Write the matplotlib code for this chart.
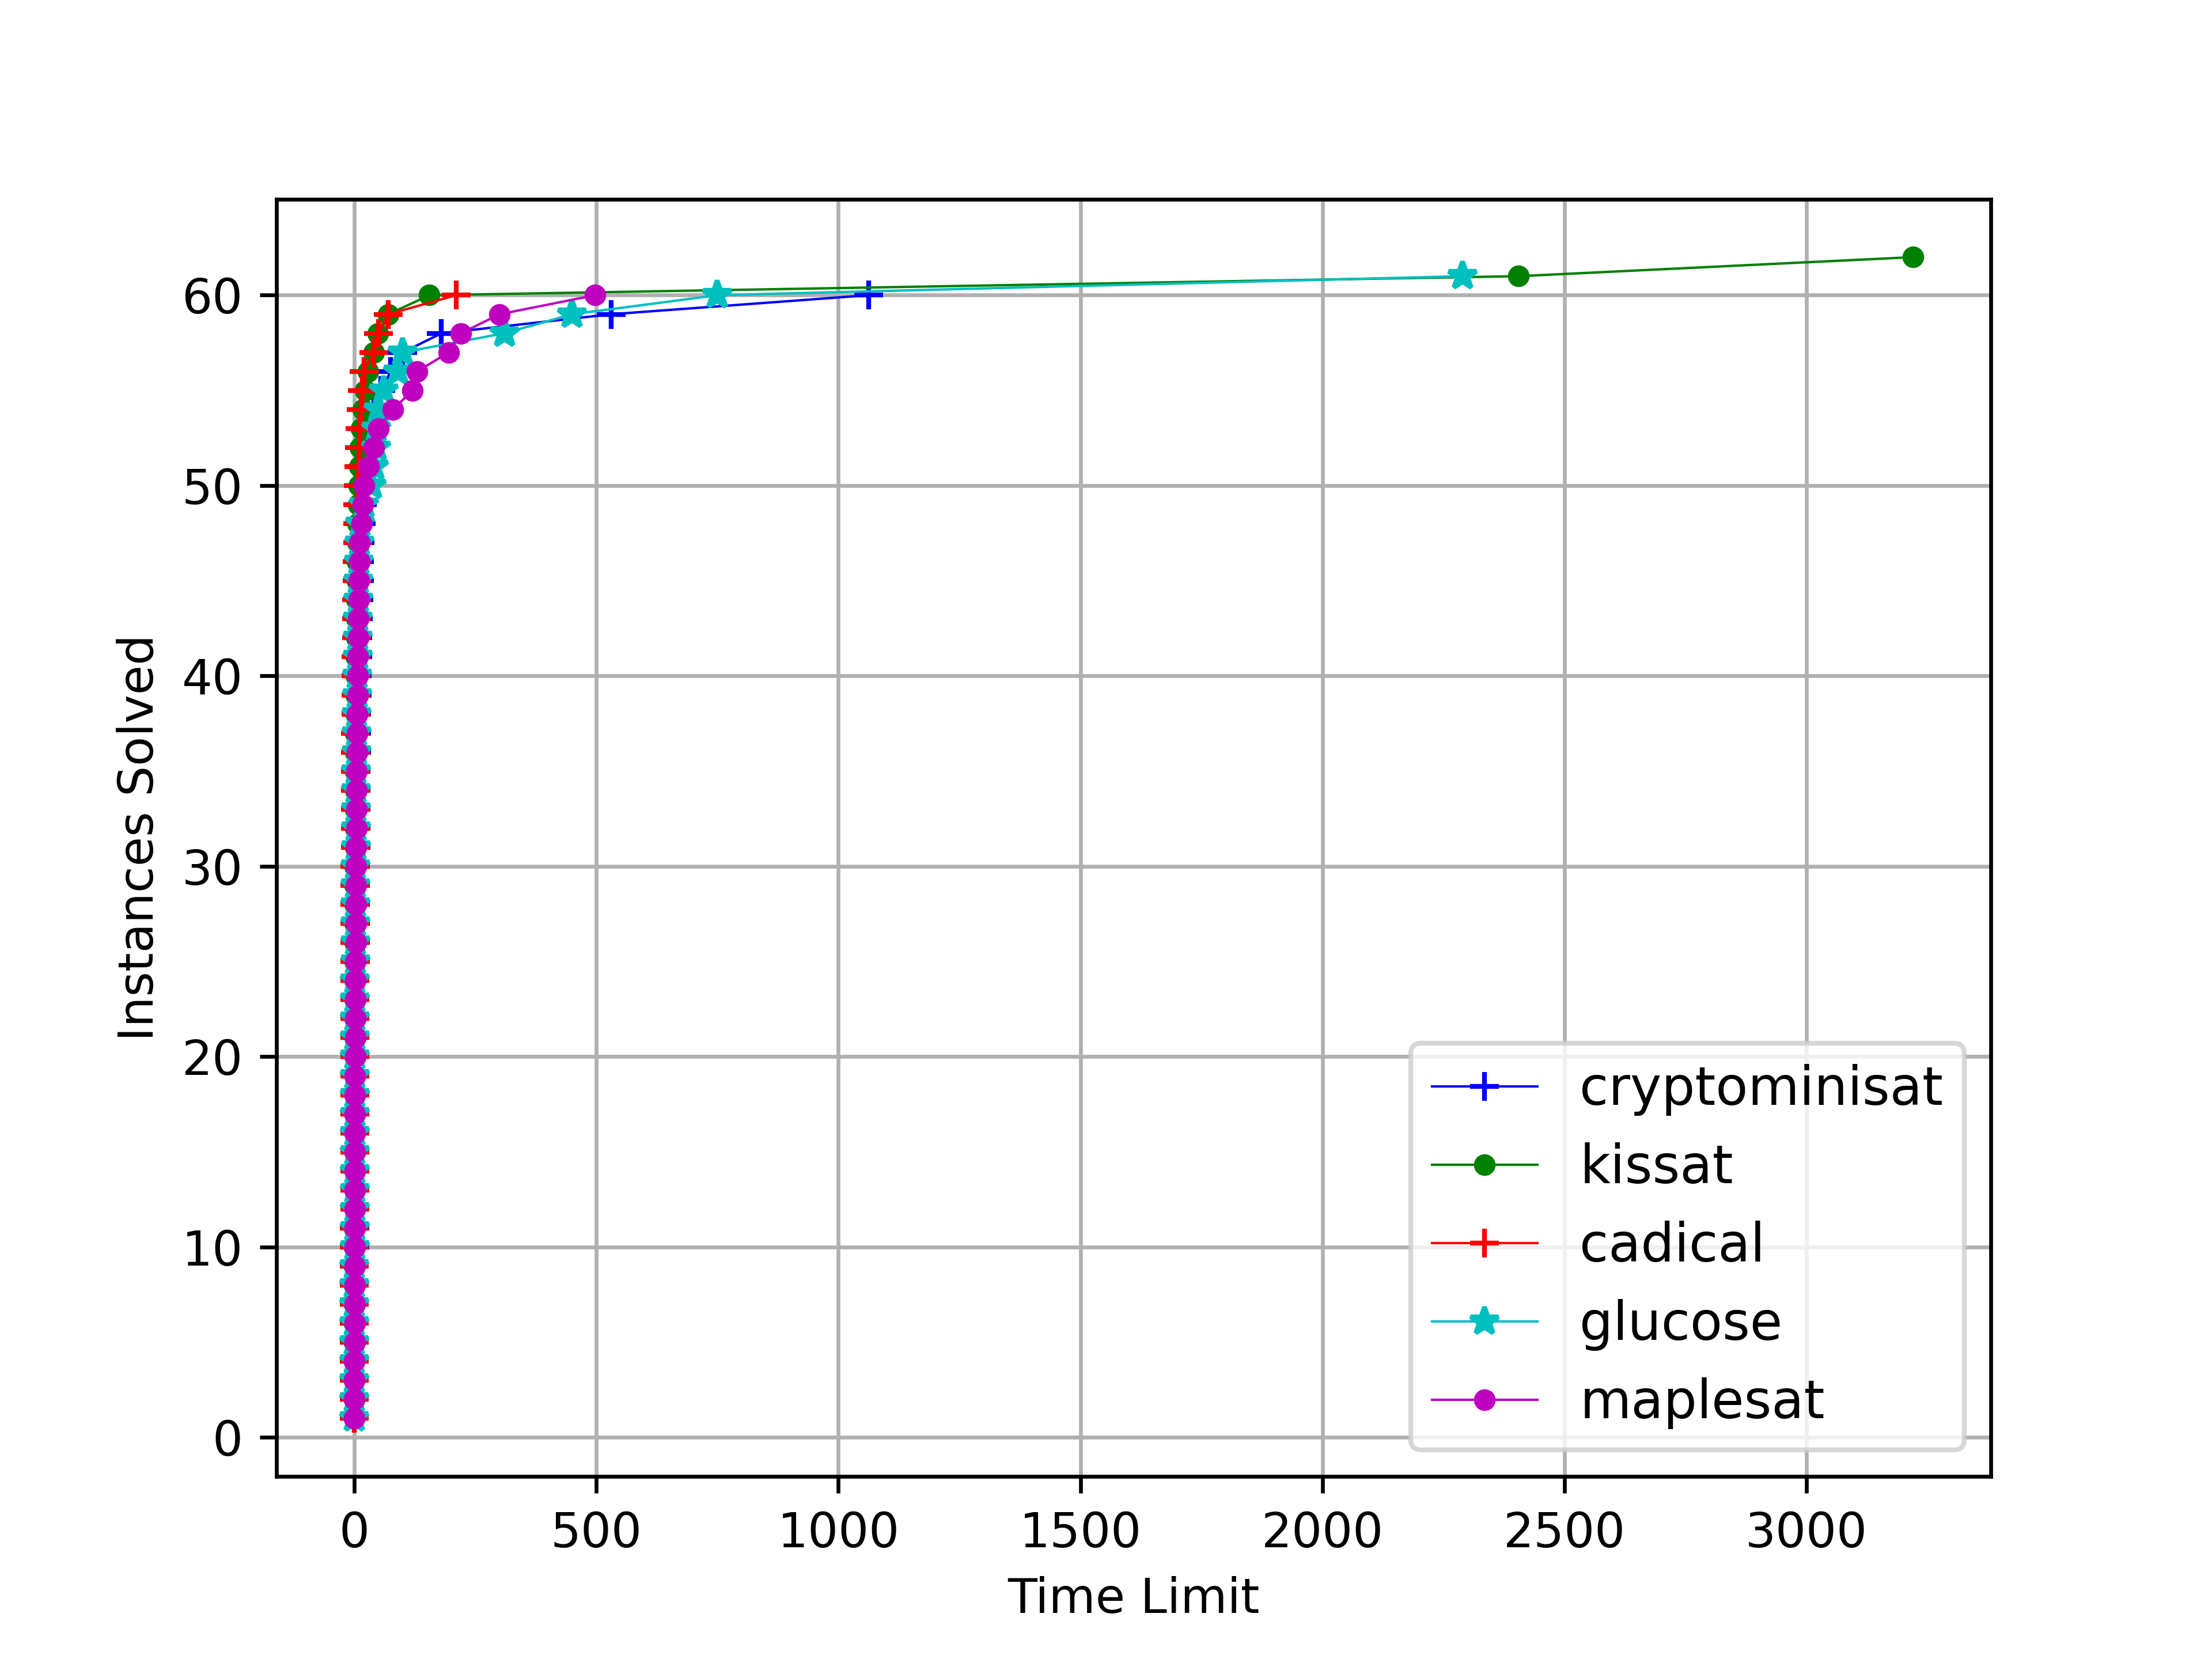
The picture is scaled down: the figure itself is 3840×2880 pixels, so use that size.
import matplotlib
matplotlib.use("Agg")
import matplotlib.pyplot as plt

crypto_t = [0.1,0.1,0.1,0.2,0.2,0.2,0.3,0.3,0.3,0.4,0.4,0.5,0.5,0.6,0.6,0.7,0.8,0.9,1.0,1.1,
            1.2,1.3,1.4,1.5,1.6,1.8,2.0,2.2,2.4,2.6,2.8,3.0,3.3,3.6,3.9,4.2,4.5,5.0,5.5,6.0,
            6.5,7.0,8.0,9.0,10,11,12,14,16,18,22,26,32,40,55,75,100,180,530,1062]
kissat_t = [0.1,0.1,0.1,0.1,0.2,0.2,0.2,0.2,0.3,0.3,0.3,0.4,0.4,0.4,0.5,0.5,0.6,0.6,0.7,0.7,
            0.8,0.8,0.9,1.0,1.0,1.1,1.2,1.3,1.4,1.5,1.6,1.7,1.8,2.0,2.2,2.4,2.6,2.8,3.0,3.3,
            3.6,4.0,4.5,5.0,5.5,6.0,6.5,7.0,8.0,9.0,10,12,14,18,22,28,40,48,70,155,2405,3220]
cadical_t = [0.1,0.1,0.1,0.1,0.2,0.2,0.2,0.2,0.3,0.3,0.3,0.4,0.4,0.4,0.5,0.5,0.6,0.6,0.7,0.7,
             0.8,0.8,0.9,1.0,1.0,1.1,1.2,1.3,1.4,1.5,1.6,1.7,1.8,2.0,2.2,2.4,2.6,2.8,3.0,3.3,
             3.6,4.0,4.5,5.0,5.5,6.0,6.5,7.0,7.5,8.0,9.0,10,12,14,16,20,40,50,70,210]
glucose_t = [0.1,0.1,0.1,0.2,0.2,0.2,0.3,0.3,0.3,0.4,0.4,0.5,0.5,0.6,0.6,0.7,0.8,0.9,1.0,1.1,
             1.2,1.3,1.4,1.5,1.6,1.8,2.0,2.2,2.4,2.6,2.8,3.0,3.3,3.6,3.9,4.2,4.5,5.0,5.5,6.0,
             6.5,7.0,7.5,8.0,8.5,9.0,10,12,20,35,40,45,45,50,60,90,100,310,450,750,2290]
maple_t = [0.2,0.2,0.3,0.3,0.4,0.4,0.5,0.5,0.6,0.6,0.7,0.8,0.9,1.0,1.1,1.2,1.3,1.4,1.5,1.6,
           1.8,2.0,2.2,2.4,2.6,2.8,3.0,3.2,3.4,3.6,3.8,4.0,4.3,4.6,5.0,5.4,5.8,6.2,6.6,7.0,
           7.5,8.0,8.5,9.0,9.5,10,11,15,18,20,30,40,50,80,120,130,195,220,300,497]

series = [("cryptominisat", crypto_t, "b", "+", 6),
          ("kissat", kissat_t, "g", "o", 3.5),
          ("cadical", cadical_t, "r", "+", 6),
          ("glucose", glucose_t, "c", "*", 6),
          ("maplesat", maple_t, "m", "o", 3.5)]

fig, ax = plt.subplots(figsize=(6.4, 4.8), dpi=600)
for name, t, c, m, ms in series:
    ax.plot(t, list(range(1, len(t) + 1)), color=c, marker=m, markersize=ms,
            linewidth=0.5, label=name)
ax.set_xlabel("Time Limit")
ax.set_ylabel("Instances Solved")
ax.grid(True)
ax.legend(loc="lower right", fontsize=11)
fig.savefig("out.png", dpi=600)
